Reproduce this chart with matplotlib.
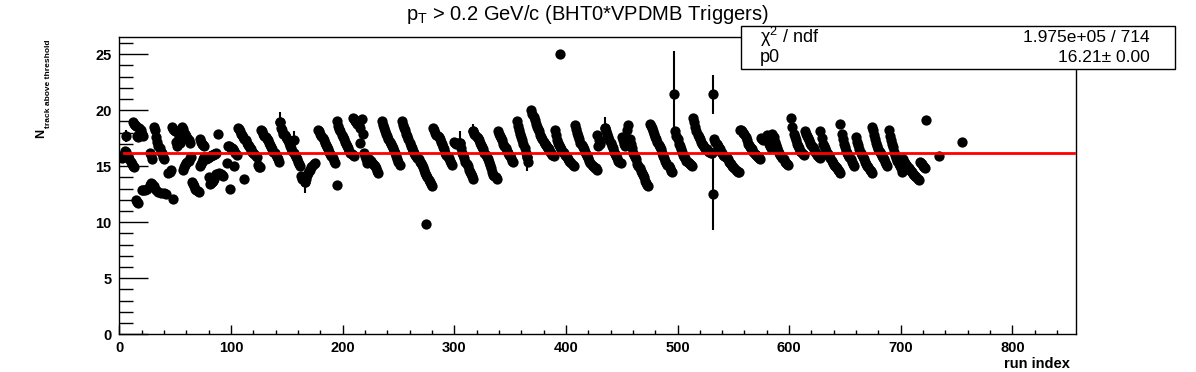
import matplotlib
matplotlib.use("Agg")
import matplotlib.pyplot as plt
from matplotlib.patches import Rectangle
from matplotlib.ticker import MultipleLocator

plt.rcParams["font.family"] = ["Liberation Sans", "DejaVu Sans"]
plt.rcParams["mathtext.fontset"] = "custom"
plt.rcParams["mathtext.rm"] = "Liberation Sans"
plt.rcParams["mathtext.bf"] = "Liberation Sans:bold"

# streaks of consecutive runs: first run index and N_track for each run
seg_start = [0, 5, 12, 15, 27, 31, 44, 47, 53, 57, 65, 72, 72, 80, 78, 96, 106, 127,
             144, 163, 178, 195, 209, 219, 235, 253, 281, 300, 317, 339, 356, 369,
             390, 408, 428, 435, 450, 475, 498, 514, 533, 556, 575, 602, 614, 628,
             646, 660, 674, 689, 702, 717]
seg_vals = [
    [15.9, 15.8, 15.7],
    [16.4, 16.3, 16.0, 15.8, 15.6, 15.4, 15.2, 15.0, 14.9],
    [18.9, 18.8, 18.7, 18.6, 17.7, 17.6, 18.4, 18.2, 17.9, 17.7],
    [12.0, 11.8, 11.7],
    [16.2, 16.0, 15.6],
    [18.5, 18.2, 17.6, 17.2, 16.8, 16.6, 16.3, 16.2, 15.8, 15.6],
    [14.4, 14.5, 14.7],
    [18.5, 18.3, 18.2, 18.1, 17.2, 16.8],
    [17.6, 17.1, 17.8, 18.5, 18.3, 18.0, 17.9, 17.7, 17.5, 17.3, 17.1],
    [14.7, 14.9, 15.1, 15.3, 15.4, 15.5, 15.7, 15.8],
    [13.6, 13.4, 13.2, 13.0, 12.9, 12.8, 12.7],
    [17.4, 17.2, 17.0, 16.9, 16.8],
    [15.0, 15.2, 15.4, 15.6, 15.8],
    [14.0, 13.4, 13.5, 13.6, 13.7, 13.9, 14.1, 14.3, 14.3, 14.4, 14.3, 14.3, 14.2, 14.1],
    [15.6, 15.7, 15.8, 15.9, 15.9, 16.0, 16.0, 16.1, 16.1, 16.2],
    [15.3, 16.8, 16.8, 16.7, 16.6, 16.6, 16.5, 16.4, 16.2, 16.0],
    [18.4, 18.3, 18.1, 17.9, 17.8, 17.6, 17.4, 17.3, 17.1, 16.9, 16.8, 16.6, 16.5, 16.3,
     16.2, 16.1, 15.9, 15.8, 15.1, 14.9, 14.9],
    [18.2, 18.1, 17.9, 17.7, 17.6, 17.4, 17.3, 17.1, 16.9, 16.7, 16.5, 16.3, 16.2, 16.0,
     15.8, 15.6, 15.4],
    [18.9, 18.4, 18.2, 17.9, 17.8, 17.6, 17.4, 17.3, 17.1, 16.8, 16.6, 16.4, 16.2, 16.0,
     15.8, 15.6, 15.4, 15.2, 15.0],
    [14.1, 13.9, 13.8, 13.6, 13.9, 14.2, 14.4, 14.6, 14.7, 14.9, 15.0, 15.2, 15.3],
    [18.2, 18.1, 17.9, 17.7, 17.5, 17.3, 17.1, 16.9, 16.7, 16.5, 16.3, 16.1, 15.9, 15.7,
     15.5, 15.3],
    [19.0, 18.6, 18.3, 18.1, 17.8, 17.6, 17.4, 17.2, 17.0, 16.8, 16.6, 16.4, 16.2, 16.1,
     16.0, 15.9],
    [19.3, 19.2, 19.0, 18.9, 18.8, 18.9, 18.7, 18.4, 19.2, 17.9],
    [16.2, 15.9, 15.6, 15.3, 15.4, 15.6, 15.5, 15.3, 15.2, 15.1, 15.0, 14.8, 14.6, 14.4],
    [19.0, 18.7, 18.4, 18.1, 17.9, 17.7, 17.4, 17.2, 17.0, 16.8, 16.6, 16.4, 16.2, 15.9,
     15.6, 15.4, 15.1],
    [19.0, 18.7, 18.4, 18.2, 17.9, 17.7, 17.4, 17.1, 16.8, 16.6, 16.4, 16.2, 16.0, 15.9,
     15.7, 15.6, 15.4, 15.3, 15.1, 14.9, 14.7, 14.4, 14.2, 14.0, 13.8, 13.6, 13.4, 13.2],
    [18.4, 18.2, 18.0, 17.8, 17.7, 17.6, 17.4, 17.2, 17.0, 16.7, 16.5, 16.2, 16.0, 15.8,
     15.7, 15.5, 15.3, 15.1],
    [17.2, 17.1, 17.0, 17.1, 17.0, 17.1, 16.6, 16.2, 16.0, 15.7, 15.4, 15.2, 15.0, 14.7,
     14.5, 14.3, 14.1, 13.9],
    [18.1, 17.9, 17.8, 17.6, 17.5, 17.3, 17.1, 16.9, 16.7, 16.5, 16.2, 16.0, 15.8, 15.6,
     15.4, 15.1, 14.8, 14.5, 14.2, 14.1, 14.0, 13.9],
    [18.1, 17.9, 17.7, 17.5, 17.3, 17.0, 16.8, 16.6, 16.4, 16.2, 16.0, 15.9, 15.7, 15.5,
     15.4],
    [19.0, 18.6, 18.2, 17.9, 17.6, 17.3, 17.0, 16.6, 16.2, 15.8, 15.4],
    [20.0, 19.7, 19.4, 19.1, 18.8, 18.5, 18.3, 18.1, 17.8, 17.6, 17.4, 17.2, 17.0, 16.9,
     16.7, 16.6, 16.5, 16.3, 16.2, 16.0, 15.9],
    [18.2, 17.8, 17.3, 17.1, 16.9, 16.7, 16.5, 16.3, 16.2, 16.0, 15.9, 15.8, 15.6, 15.5,
     15.4, 15.3, 15.1, 15.0],
    [18.7, 18.3, 18.0, 17.7, 17.4, 17.1, 16.9, 16.7, 16.5, 16.3, 16.1, 15.9, 15.7, 15.5,
     15.3, 15.1, 15.0, 14.9, 14.8, 14.8, 14.7],
    [17.8, 16.8, 17.3, 17.0],
    [18.4, 18.1, 17.9, 17.6, 17.3, 17.1, 16.8, 16.6, 16.3, 16.1, 15.9, 15.7, 15.5, 15.4,
     15.3],
    [17.6, 17.3, 17.0, 16.8, 17.5, 18.2, 18.7, 17.4, 17.0, 16.6, 16.2, 16.0, 15.8, 15.6,
     15.2, 15.0, 14.8, 14.6, 14.4, 14.2, 14.0, 13.7, 13.5, 13.3, 13.2],
    [18.8, 18.6, 18.4, 18.1, 17.9, 17.6, 17.4, 17.2, 16.9, 16.7, 16.5, 16.2, 15.9, 15.7,
     15.5, 15.3, 15.1, 15.0, 14.8, 14.6, 14.5],
    [18.1, 17.7, 17.4, 17.0, 16.8, 16.5, 16.3, 16.0, 15.8, 15.7, 15.5, 15.4, 15.3, 15.2,
     15.1, 15.0],
    [19.3, 18.9, 18.5, 18.1, 17.8, 17.6, 17.4, 17.2, 17.0, 16.9, 16.7, 16.6, 16.5, 16.4,
     16.3, 16.3, 16.2, 16.2],
    [17.4, 17.2, 17.0, 16.8, 16.6, 16.5, 16.3, 16.2, 16.0, 15.9, 15.8, 15.7, 15.6, 15.4,
     15.3, 15.2, 15.0, 14.9, 14.8, 14.7, 14.6, 14.5, 14.5],
    [18.2, 18.2, 18.1, 18.0, 17.9, 17.6, 17.3, 17.0, 16.9, 16.7, 16.6, 16.5, 16.3, 16.1,
     16.0, 15.9, 15.8, 15.7, 15.6],
    [17.5, 17.4, 17.3, 17.4, 17.6, 17.8, 17.3, 17.0, 16.8, 16.6, 17.9, 17.6, 17.2, 16.9,
     16.6, 16.4, 16.2, 16.0, 15.9, 15.7, 15.6, 15.4, 15.3, 15.2, 15.1],
    [19.3, 18.5, 17.9, 17.6, 17.3, 17.0, 16.8, 16.6, 16.4, 16.3, 16.1, 16.0],
    [18.1, 17.9, 17.7, 17.5, 17.3, 17.1, 16.9, 16.7, 16.5, 16.3, 16.2, 16.0, 15.9, 15.8,
     15.7],
    [18.1, 17.5, 17.0, 16.8, 16.6, 16.4, 16.2, 16.1, 15.9, 15.7, 15.5, 15.3, 15.1, 15.0,
     14.9, 14.8, 14.7, 14.6, 14.4],
    [18.8, 17.9, 17.4, 17.0, 16.7, 16.4, 16.2, 16.0, 15.8, 15.6, 15.4, 15.2, 15.0],
    [17.6, 17.2, 16.9, 16.5, 16.2, 16.0, 15.8, 15.6, 15.4, 15.2, 15.0, 14.9, 14.7, 14.6,
     14.4],
    [18.5, 18.2, 17.8, 17.4, 17.1, 16.8, 16.5, 16.3, 16.1, 15.9, 15.7, 15.6, 15.4, 15.2,
     15.0],
    [18.2, 17.7, 17.3, 17.0, 16.7, 16.3, 16.0, 15.7, 15.5, 15.2, 15.0, 14.8, 14.5],
    [15.6, 15.4, 15.3, 15.1, 15.0, 14.8, 14.7, 14.6, 14.5, 14.3, 14.2, 14.1, 14.0, 13.9,
     13.8],
    [15.4, 15.3, 15.2, 15.0, 14.9, 14.8],
]

# isolated runs
single_x = [20, 21, 23, 25, 27, 28, 29, 31, 33, 35, 37, 40, 42, 48, 88, 99, 103, 112,
            195, 216, 275, 395, 723, 734, 755]
single_y = [12.9, 12.9, 12.9, 13.0, 13.3, 13.5, 13.4, 13.2, 12.9, 12.7, 12.6, 12.6,
            12.5, 12.1, 17.9, 13.0, 15.0, 13.9, 13.3, 17.1, 9.8, 25.0, 19.1, 15.9, 17.2]

# runs with visible error bars
err_x = [6, 144, 156, 166, 305, 317, 365, 435, 497, 532, 532]
err_y = [17.7, 18.9, 17.3, 13.6, 17.1, 18.1, 15.8, 18.4, 21.4, 21.4, 12.5]
err_e = [0.5, 0.9, 0.8, 1.0, 1.0, 0.7, 1.2, 1.0, 3.9, 1.7, 3.2]

fit_p0 = 16.21
fit_range = [4, 855]

run_x = []
run_y = []
for s, vals in zip(seg_start, seg_vals):
    run_x += [s + i for i in range(len(vals))]
    run_y += vals
run_x += single_x + err_x
run_y += single_y + err_y

fig = plt.figure(figsize=(11.96, 3.72), dpi=100)
ax = fig.add_axes([0.0998, 0.1013, 0.7999, 0.7984])

ax.errorbar(err_x, err_y, yerr=err_e, fmt="none", ecolor="black", elinewidth=1.5,
            capsize=0, zorder=2)
ax.plot(run_x, run_y, "o", color="black", markersize=7.4, markeredgewidth=0, zorder=3)
ax.plot(fit_range, [fit_p0, fit_p0], color="#ff0000", lw=2, zorder=4)

ax.set_xlim(0, 857)
ax.set_ylim(0, 26.5)
ax.xaxis.set_major_locator(MultipleLocator(100))
ax.xaxis.set_minor_locator(MultipleLocator(20))
ax.yaxis.set_major_locator(MultipleLocator(5))
ax.yaxis.set_minor_locator(MultipleLocator(1))
ax.tick_params(axis="both", which="both", direction="in", top=False, right=False,
               width=1, labelsize=10.5)
ax.tick_params(axis="y", which="major", length=20.6, pad=5.5)
ax.tick_params(axis="y", which="minor", length=10.3)
ax.tick_params(axis="x", which="major", length=6.4, pad=4.5)
ax.tick_params(axis="x", which="minor", length=3.2)
for lab in ax.get_xticklabels() + ax.get_yticklabels():
    lab.set_fontweight("bold")
for sp in ax.spines.values():
    sp.set_linewidth(1)

fig.text(1070 / 1196, 1 - 364 / 372, "run index", ha="right", va="center",
         fontsize=10.5, fontweight="bold")
fig.text(41 / 1196, 1 - 138 / 372, "N", rotation=90, ha="center", va="bottom",
         fontsize=9, fontweight="bold")
fig.text(48.5 / 1196, 1 - 128 / 372, "track above threshold", rotation=90,
         ha="center", va="bottom", fontsize=6, fontweight="bold")

fig.text(587 / 1196, 1 - 14 / 372,
         r"p$_{\mathregular{T}}$ > 0.2 GeV/c (BHT0*VPDMB Triggers)",
         ha="center", va="center", fontsize=14.5)

# fit statistics box
fig.patches.append(Rectangle((741 / 1196, 1 - 69 / 372), 434 / 1196, 43 / 372,
                             transform=fig.transFigure, facecolor="white",
                             edgecolor="black", lw=1, zorder=5))
fig.text(760 / 1196, 1 - 37 / 372, r"χ$^{\mathregular{2}}$ / ndf", ha="left",
         va="center", fontsize=13, zorder=6)
fig.text(1150 / 1196, 1 - 37 / 372, "1.975e+05 / 714", ha="right", va="center",
         fontsize=12.5, zorder=6)
fig.text(760 / 1196, 1 - 58 / 372, "p0", ha="left", va="center", fontsize=13, zorder=6)
fig.text(1150 / 1196, 1 - 58 / 372, "16.21± 0.00", ha="right", va="center",
         fontsize=12.5, zorder=6)

fig.savefig("out.png", dpi=100)
